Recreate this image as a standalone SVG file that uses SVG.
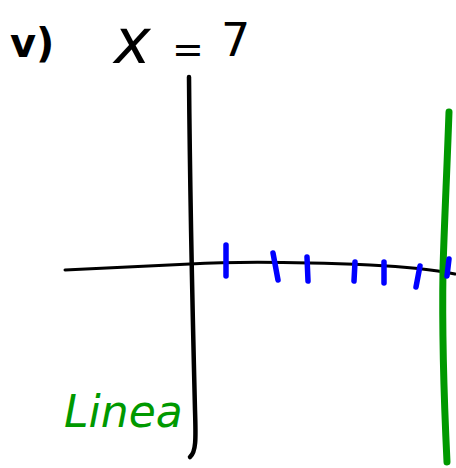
<svg xmlns="http://www.w3.org/2000/svg" width="456" height="468" viewBox="0 0 456 468">
<style>
.ink{fill:none;stroke-linecap:round;stroke-linejoin:round}
.blk{stroke:#000}
.tick{stroke:#0000ff;stroke-width:5.5;fill:none;stroke-linecap:round}
.grn{stroke:#009900}
.hw{font-family:"DejaVu Sans",sans-serif}
</style>
<rect width="456" height="468" fill="#fff"/>
<g id="label-v">
<text class="hw" x="10" y="57" font-size="40" font-weight="bold">v)</text>
</g>
<g id="title">
<text class="hw" x="114" y="63" font-size="62" font-style="italic">x</text>
<text class="hw" x="172" y="62" font-size="38">=</text>
<text class="hw" x="221" y="56" font-size="46">7</text>
</g>
<g id="connectors">
<path id="x-axis" class="ink blk" stroke-width="3" d="M65,270 C110,268 150,266 190,264 C240,261 300,262 370,265 C410,267 435,270 455,274"/>
<path id="y-axis" class="ink blk" stroke-width="4.5" d="M189,77 C190,200 193,330 195,410 C196,440 196,452 190,457"/>
<path id="line-x7" class="ink grn" stroke-width="7" d="M449,112 C447,170 444,230 443,270 C442,330 444,400 447,462"/>
</g>
<g id="ticks">
<path class="tick" d="M226,245 L226,276"/>
<path class="tick" d="M273,253 L278,280"/>
<path class="tick" d="M307,257 L308,281"/>
<path class="tick" d="M355,262 L354,281"/>
<path class="tick" d="M384,262 L384,283"/>
<path class="tick" d="M420,266 L416,287"/>
<path class="tick" d="M449,259 L447,276"/>
</g>
<g id="linea">
<text class="hw" x="64" y="427" font-size="44" fill="#009900" font-style="italic">Linea</text>
</g>
</svg>
